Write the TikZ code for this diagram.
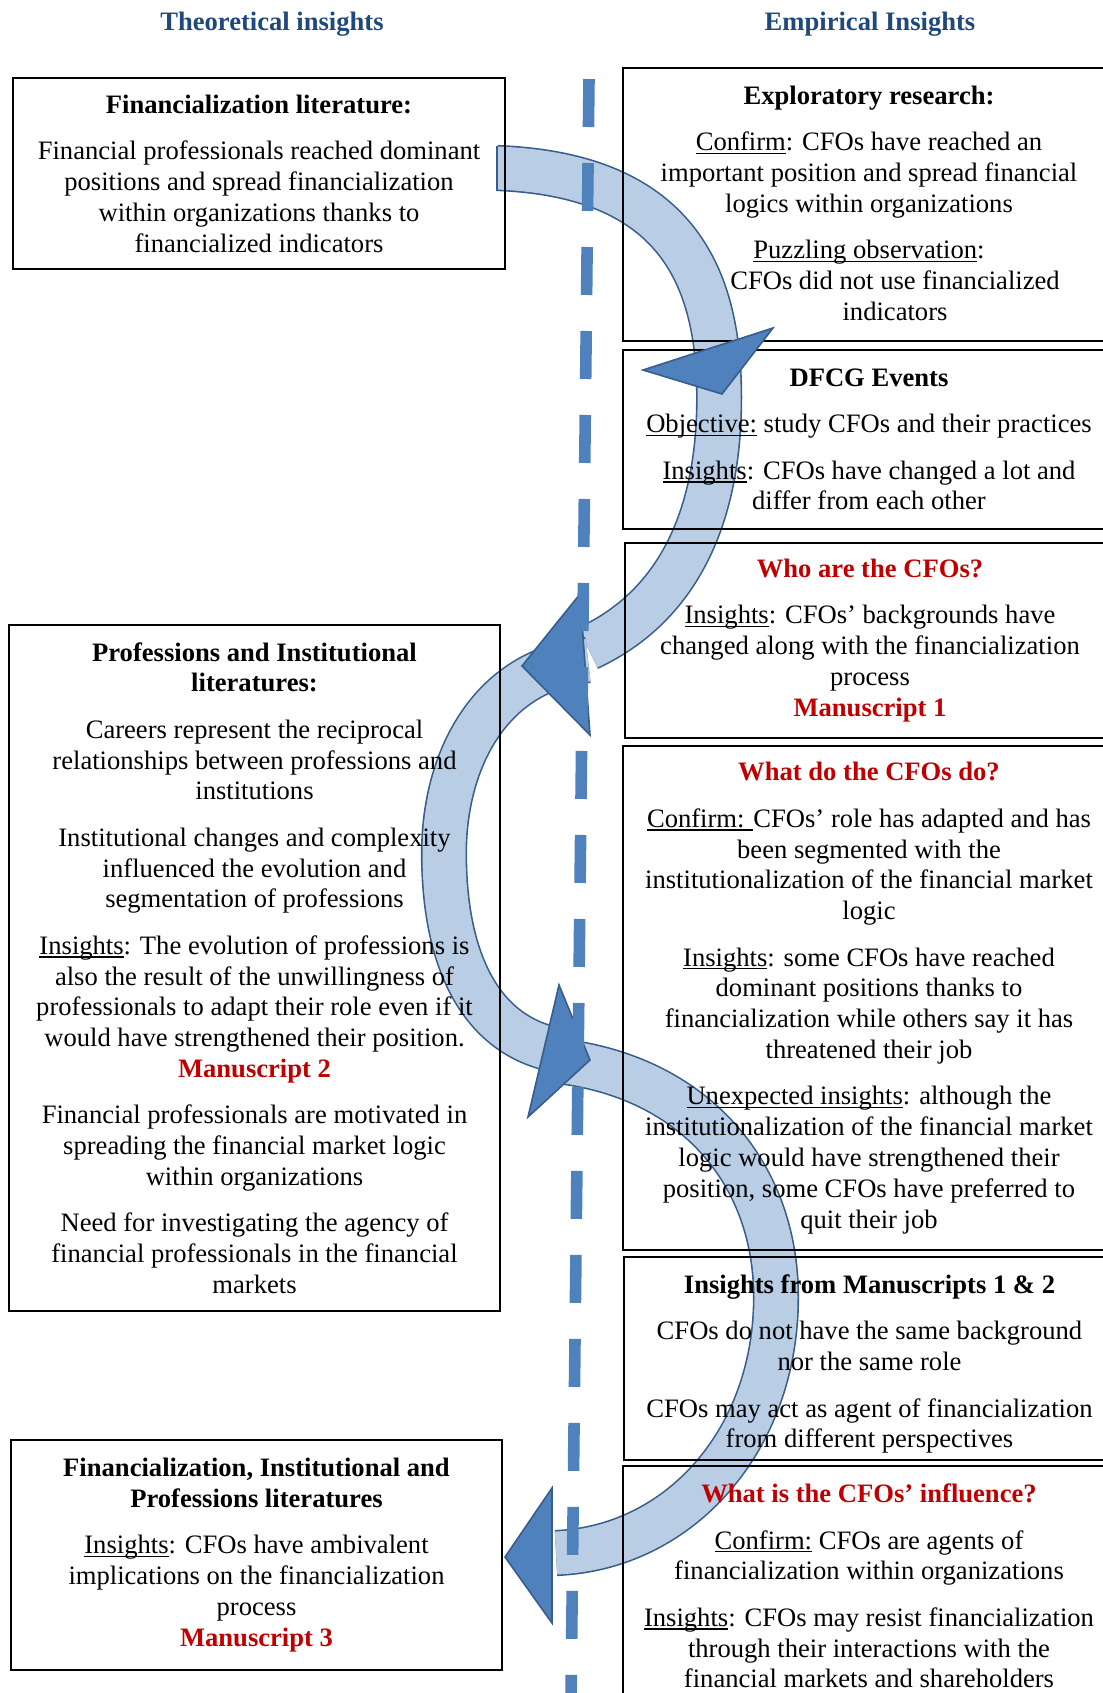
\documentclass[tikz,border=0pt]{standalone}
\usepackage{fontspec}
\setmainfont{Liberation Serif}
\definecolor{bandfill}{HTML}{B9CDE5}
\definecolor{bandline}{HTML}{385D8A}
\definecolor{headfill}{HTML}{4F81BD}
\definecolor{darkred}{HTML}{C00000}
\definecolor{titleblue}{HTML}{1F497D}
\newcommand{\rt}[1]{\textcolor{darkred}{\textbf{#1}}}
\newcommand{\pg}{\\[7.8pt]}
\newcommand{\ulx}[1]{\setbox0\hbox{#1}\rlap{\rule[-1.7pt]{\wd0}{0.6pt}}\box0\relax}
\begin{document}
\begin{tikzpicture}[x=0.5pt,y=-0.5pt,
  txt/.style={font=\fontsize{13.3pt}{15.4pt}\selectfont, align=center},
  box/.style={txt, draw=black, line width=0.7pt, inner sep=0pt},
  coltitle/.style={font=\fontsize{13.3pt}{15.4pt}\selectfont\bfseries, text=titleblue},
  band/.style={draw=bandline, line width=0.8pt, double=bandfill, double distance=21.5pt},
  head/.style={fill=headfill, draw=bandline, line width=0.8pt, line join=miter},
  divider/.style={draw=headfill, line width=5.8pt, dash pattern=on 24pt off 18pt}]
\useasboundingbox (0,0) rectangle (1103,1693);
\begin{scope}
\clip (0,0) rectangle (1103,1693);

% curved bands
\coordinate (a0) at (497,168);
\coordinate (a1) at (719,410);
\coordinate (a2) at (588,648);
\coordinate (c0) at (588,660);
\coordinate (c1) at (444,853);
\coordinate (c2) at (548,1048);
\coordinate (d0) at (548,1060);
\coordinate (d1) at (776,1297);
\coordinate (d2) at (556,1553);
\draw[band] (a0) .. controls (680,175) and (722,280) .. (a1) .. controls (716,530) and (670,610) .. (a2);
\draw[bandline, line width=0.8pt] (497,146) -- (497,190);
\draw[band] (c0) .. controls (490,670) and (444,760) .. (c1) .. controls (444,960) and (480,1030) .. (c2);
\draw[band] (d0) .. controls (690,1072) and (776,1170) .. (d1) .. controls (776,1440) and (680,1548) .. (d2);

% column titles
\node[coltitle] (t1) at (272,24.5) {Theoretical insights};
\node[coltitle] (t2) at (870,24.5) {Empirical Insights};

% left boxes
\node[box, minimum width=246pt, minimum height=95.5pt] (lit1) at (259,173.5)
{\textbf{Financialization literature:}\pg
Financial professionals reached dominant\\positions and spread financialization\\within organizations thanks to\\financialized indicators};

\node[box, minimum width=245.5pt, minimum height=343pt] (lit2) at (254.5,968)
{\textbf{Professions and Institutional}\\\textbf{literatures:}\pg
Careers represent the reciprocal\\relationships between professions and\\institutions\pg
Institutional changes and complexity\\influenced the evolution and\\segmentation of professions\pg
\ulx{Insights}: The evolution of professions is\\also the result of the unwillingness of\\professionals to adapt their role even if it\\would have strengthened their position.\\\rt{Manuscript 2}\pg
Financial professionals are motivated in\\spreading the financial market logic\\within organizations\pg
Need for investigating the agency of\\financial professionals in the financial\\markets};

\node[box, minimum width=245.5pt, minimum height=115pt] (lit3) at (256.5,1555)
{\textbf{Financialization, Institutional and}\\\textbf{Professions literatures}\pg
\ulx{Insights}: CFOs have ambivalent\\implications on the financialization\\process\\\rt{Manuscript 3}};

% right boxes
\node[box, minimum width=246pt, minimum height=136.5pt] (emp1) at (869,204.5) {};
\node[txt, yshift=0.8pt] (emp1t) at (emp1)
{\textbf{Exploratory research:}\pg
\ulx{Confirm}: CFOs have reached an\\important position and spread financial\\logics within organizations\pg
\ulx{Puzzling observation}:\\\hspace*{26pt}CFOs did not use financialized\\\hspace*{26pt}indicators};

\node[box, minimum width=246pt, minimum height=89.5pt] (emp2) at (869,439.5)
{\textbf{DFCG Events}\pg
\ulx{Objective:} study CFOs and their practices\pg
\ulx{Insights}: CFOs have changed a lot and\\differ from each other};

\node[box, minimum width=245pt, minimum height=97.5pt] (emp3) at (870,640.5)
{\rt{Who are the CFOs?}\pg
\ulx{Insights}: CFOs’ backgrounds have\\changed along with the financialization\\process\\\rt{Manuscript 1}};

\node[box, minimum width=246pt, minimum height=252pt] (emp4) at (869,998)
{\rt{What do the CFOs do?}\pg
\ulx{Confirm: }CFOs’ role has adapted and has\\been segmented with the\\institutionalization of the financial market\\logic\pg
\ulx{Insights}: some CFOs have reached\\dominant positions thanks to\\financialization while others say it has\\threatened their job\pg
\ulx{Unexpected insights}: although the\\institutionalization of the financial market\\logic would have strengthened their\\position, some CFOs have preferred to\\quit their job};

\node[box, minimum width=245.5pt, minimum height=101.5pt] (emp5) at (869.5,1358.5) {};
\node[txt, yshift=-2.8pt] (emp5t) at (emp5)
{\textbf{Insights from Manuscripts 1 \& 2}\pg
CFOs do not have the same background\\nor the same role\pg
CFOs may act as agent of financialization\\from different perspectives};

\node[box, minimum width=246pt, minimum height=120pt] (emp6) at (869,1586)
{\rt{What is the CFOs’ influence?}\pg
\ulx{Confirm:} CFOs are agents of\\financialization within organizations\pg
\ulx{Insights}: CFOs may resist financialization\\through their interactions with the\\financial markets and shareholders};

% arrowheads
\draw[head] (773,328) -- (643,370) -- (722,394) -- cycle;
\draw[head] (580,594) -- (522,666) -- (590,735) -- cycle;
\draw[head] (559,985) -- (590,1060) -- (528,1117) -- cycle;
\draw[head] (552,1488) -- (505,1557) -- (552,1623) -- cycle;

% dashed divider
\coordinate (dv0) at (589,79);
\coordinate (dv1) at (571,1700);
\draw[divider] (dv0) -- (dv1);
\end{scope}
\end{tikzpicture}
\end{document}
